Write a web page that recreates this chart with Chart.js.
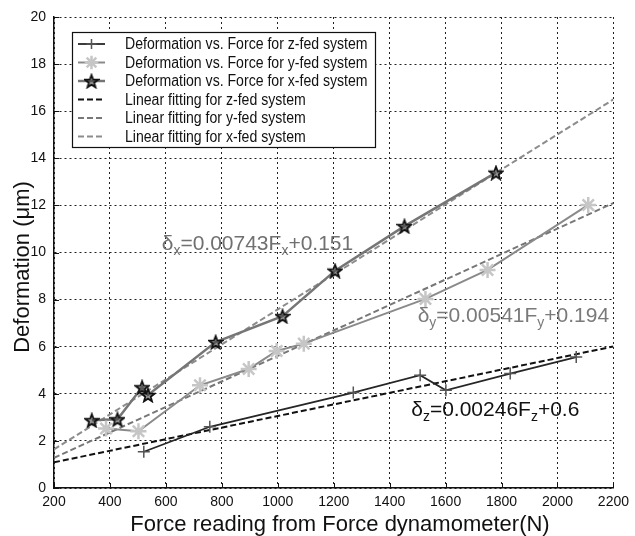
<!DOCTYPE html>
<html>
<head>
<meta charset="utf-8">
<script src="https://cdn.jsdelivr.net/npm/chart.js@4.4.0/dist/chart.umd.min.js"></script>
<style>
  html, body { margin: 0; padding: 0; background: #fff; }
  #wrap { width: 635px; height: 536px; }
</style>
</head>
<body>
<div id="wrap"><canvas id="grafico" width="635" height="536"></canvas></div>
<script>
// Dados (força em N, deformação em µm)
const forcaZ = [521, 757, 1270, 1509, 1601, 1831, 2067];
const deformZ = [1.54, 2.6, 4.05, 4.79, 4.15, 4.86, 5.56];
const forcaY = [386, 502, 722, 896, 996, 1093, 1528, 1750, 2110];
const deformY = [2.53, 2.41, 4.36, 5.05, 5.82, 6.13, 8.03, 9.26, 12.02];
const forcaX = [335, 427, 515, 536, 778, 1017, 1205, 1453, 1780];
const deformX = [2.88, 2.92, 4.28, 3.95, 6.2, 7.3, 9.23, 11.12, 13.39];

// Retas de ajuste: pontas lidas em F=200 e F=2200
const forcaAjuste = [200, 2200];
const ajusteZ = [1.09, 6.01];
const ajusteY = [1.28, 12.1];
const ajusteX = [1.64, 16.5];

const xTicks = [200, 400, 600, 800, 1000, 1200, 1400, 1600, 1800, 2000, 2200];
const yTicks = [0, 2, 4, 6, 8, 10, 12, 14, 16, 18, 20];

const legendas = [
    'Deformation vs. Force for z-fed system',
    'Deformation vs. Force for y-fed system',
    'Deformation vs. Force for x-fed system',
    'Linear fitting for z-fed system',
    'Linear fitting for y-fed system',
    'Linear fitting for x-fed system'
];

// Equações: partes [texto, subscrito?]
const equacaoX = [['δ', 0], ['x', 1], ['=0.00743F', 0], ['x', 1], ['+0.151', 0]];
const equacaoY = [['δ', 0], ['y', 1], ['=0.00541F', 0], ['y', 1], ['+0.194', 0]];
const equacaoZ = [['δ', 0], ['z', 1], ['=0.00246F', 0], ['z', 1], ['+0.6', 0]];
const equacoes = [
    { partes: equacaoX, f: 585, d: 10.1, cor: '#707070' },
    { partes: equacaoY, f: 1500, d: 7.06, cor: '#7a7a7a' },
    { partes: equacaoZ, f: 1477, d: 3.06, cor: '#111' }
];

const xTitulo = 'Force reading from Force dynamometer(N)';
const yTitulo = 'Deformation (μm)';

function pontos(xs, ys) {
    return xs.map((x, i) => ({ x: x, y: ys[i] }));
}

// Estrela de cinco pontas (marcador do x-fed)
function criaEstrela(tam, cor) {
    const c = document.createElement('canvas');
    c.width = tam; c.height = tam;
    const g = c.getContext('2d');
    const cx = tam / 2, cy = tam / 2 + 0.8;
    const rExt = tam / 2 - 1.2, rInt = rExt * 0.42;
    g.beginPath();
    for (let i = 0; i < 10; i++) {
        const r = i % 2 ? rInt : rExt;
        const a = -Math.PI / 2 + i * Math.PI / 5;
        const px = cx + r * Math.cos(a), py = cy + r * Math.sin(a);
        if (i === 0) g.moveTo(px, py); else g.lineTo(px, py);
    }
    g.closePath();
    g.fillStyle = 'rgba(60,60,60,0.5)';
    g.fill();
    g.lineWidth = 1.8;
    g.strokeStyle = cor;
    g.stroke();
    return c;
}
const estrela = criaEstrela(16, '#111');

const tracos = [6, 3];

const datasets = [
    {
        data: pontos(forcaZ, deformZ),
        borderColor: '#262626', borderWidth: 1.8,
        pointStyle: 'cross', pointRadius: 6, pointBorderWidth: 1.5,
        pointBorderColor: '#555', backgroundColor: '#555'
    },
    {
        data: pontos(forcaY, deformY),
        borderColor: '#8a8a8a', borderWidth: 2,
        pointStyle: 'star', pointRadius: 8, pointBorderWidth: 2.5,
        pointBorderColor: '#c6c6c6', backgroundColor: '#c6c6c6'
    },
    {
        data: pontos(forcaX, deformX),
        borderColor: '#767676', borderWidth: 2.5,
        pointStyle: estrela, pointRadius: 8,
        pointBorderColor: '#111', backgroundColor: '#111'
    },
    {
        data: pontos(forcaAjuste, ajusteZ),
        borderColor: '#111', borderWidth: 2, borderDash: tracos, pointRadius: 0
    },
    {
        data: pontos(forcaAjuste, ajusteY),
        borderColor: '#777', borderWidth: 2, borderDash: tracos, pointRadius: 0
    },
    {
        data: pontos(forcaAjuste, ajusteX),
        borderColor: '#8c8c8c', borderWidth: 2, borderDash: tracos, pointRadius: 0
    }
];
datasets.forEach((ds, i) => {
    ds.label = legendas[i];
    ds.showLine = true;
    ds.fill = false;
    ds.tension = 0;
});

// Marcas internas dos eixos, títulos, legenda e equações
const extras = {
    id: 'extras',
    afterDraw(chart) {
        const ctx = chart.ctx;
        const area = chart.chartArea;
        const sx = chart.scales.x, sy = chart.scales.y;

        ctx.save();
        ctx.strokeStyle = '#111';
        ctx.lineWidth = 1;
        ctx.beginPath();
        xTicks.forEach(v => {
            const px = Math.round(sx.getPixelForValue(v)) + 0.5;
            ctx.moveTo(px, area.bottom); ctx.lineTo(px, area.bottom - 5);
        });
        yTicks.forEach(v => {
            const py = Math.round(sy.getPixelForValue(v)) + 0.5;
            ctx.moveTo(area.left, py); ctx.lineTo(area.left + 5, py);
        });
        ctx.stroke();

        // títulos dos eixos
        ctx.fillStyle = '#111';
        ctx.font = '22px "Liberation Sans", Arial, sans-serif';
        ctx.textAlign = 'center';
        ctx.textBaseline = 'alphabetic';
        ctx.fillText(xTitulo, 340, 531);
        ctx.save();
        ctx.translate(29, 267);
        ctx.rotate(-Math.PI / 2);
        ctx.fillText(yTitulo, 0, 0);
        ctx.restore();

        // equações das retas
        equacoes.forEach(eq => {
            let px = sx.getPixelForValue(eq.f);
            const py = sy.getPixelForValue(eq.d);
            ctx.fillStyle = eq.cor;
            ctx.textAlign = 'left';
            eq.partes.forEach(([t, sub]) => {
                ctx.font = (sub ? '14px' : '21px') + ' "Liberation Sans", Arial, sans-serif';
                ctx.fillText(t, px, py + (sub ? 5 : 0));
                px += ctx.measureText(t).width;
            });
        });

        // legenda em caixa
        const caixa = { x: 72.5, y: 32.5, w: 303, h: 115 };
        ctx.fillStyle = '#fff';
        ctx.fillRect(caixa.x, caixa.y, caixa.w, caixa.h);
        ctx.strokeStyle = '#111';
        ctx.lineWidth = 1.2;
        ctx.strokeRect(caixa.x, caixa.y, caixa.w, caixa.h);
        chart.data.datasets.forEach((ds, i) => {
            const ly = 44 + i * 18.5;
            ctx.save();
            ctx.strokeStyle = ds.borderColor;
            ctx.lineWidth = ds.borderWidth;
            ctx.setLineDash(ds.borderDash || []);
            ctx.beginPath();
            ctx.moveTo(78, ly); ctx.lineTo(105, ly);
            ctx.stroke();
            ctx.restore();
            if (ds.pointRadius) {
                ctx.save();
                ctx.strokeStyle = ds.pointBorderColor;
                ctx.fillStyle = ds.backgroundColor;
                ctx.lineWidth = ds.pointBorderWidth || 1;
                Chart.helpers.drawPoint(ctx, {
                    pointStyle: ds.pointStyle, radius: ds.pointRadius * 0.85,
                    borderWidth: ds.pointBorderWidth || 1, rotation: 0
                }, 91.5, ly);
                ctx.restore();
            }
            ctx.save();
            ctx.fillStyle = '#111';
            ctx.font = '16px "Liberation Sans", Arial, sans-serif';
            ctx.textAlign = 'left';
            ctx.textBaseline = 'middle';
            ctx.translate(125, ly + 1);
            ctx.scale(0.88, 1);
            ctx.fillText(ds.label, 0, 0);
            ctx.restore();
        });
        ctx.restore();
    }
};

const fonteTicks = { family: '"Liberation Sans", Arial, sans-serif', size: 14 };

new Chart(document.getElementById('grafico'), {
    type: 'scatter',
    data: { datasets: datasets },
    options: {
        responsive: false,
        animation: false,
        layout: { padding: { top: 17, right: 16, left: 0, bottom: 0 } },
        plugins: { legend: { display: false }, tooltip: { enabled: false } },
        scales: {
            x: {
                type: 'linear', min: 200, max: 2200,
                afterBuildTicks: s => { s.ticks = xTicks.map(v => ({ value: v })); },
                afterFit: s => { s.height = 48; },
                ticks: { color: '#111', font: fonteTicks, padding: 6, maxRotation: 0, callback: v => String(v) },
                grid: { color: '#222', lineWidth: 1, drawTicks: false },
                border: { display: true, color: '#111', width: 1.5, dash: [2, 3] }
            },
            y: {
                type: 'linear', min: 0, max: 20,
                afterBuildTicks: s => { s.ticks = yTicks.map(v => ({ value: v })); },
                afterFit: s => { s.width = 54; },
                ticks: { color: '#111', font: fonteTicks, padding: 8, callback: v => String(v) },
                grid: { color: '#222', lineWidth: 1, drawTicks: false },
                border: { display: true, color: '#111', width: 1.5, dash: [2, 3] }
            }
        }
    },
    plugins: [extras]
});
</script>
</body>
</html>
